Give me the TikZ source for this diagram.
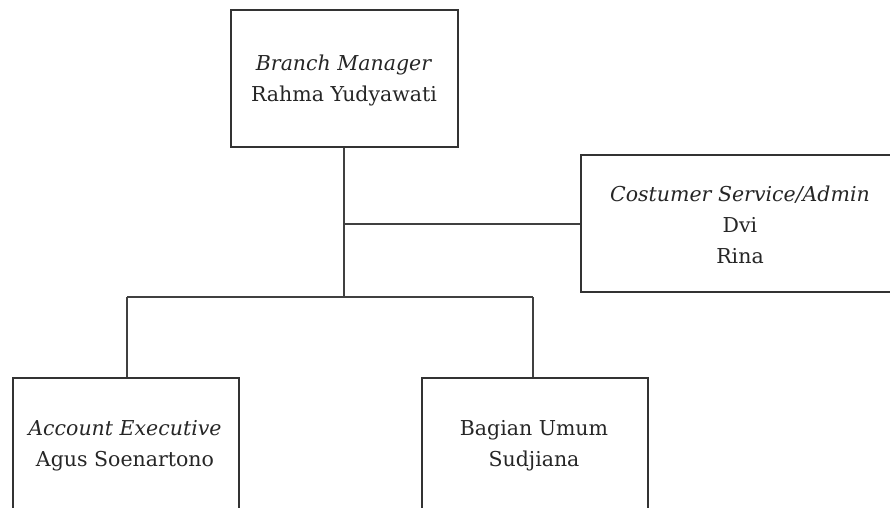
\documentclass[tikz,border=0pt]{standalone}
\usepackage{fontspec}
\setmainfont{DejaVu Serif}
\begin{document}
\begin{tikzpicture}[x=1pt,y=-1pt,
  box/.style={draw=black!80, line width=1.6pt, rectangle, inner sep=0pt, anchor=north west},
  conn/.style={draw=black!75, line width=1.1pt},
  lbl/.style={align=center, font=\fontsize{20.5}{31}\selectfont, text=black!85, inner sep=0pt}]
\useasboundingbox (0,0) rectangle (890,507);
\node[box, minimum width=227pt, minimum height=137pt] (bm) at (230,9) {};
\node[box, minimum width=320pt, minimum height=137pt] (cs) at (580,154) {};
\node[box, minimum width=226pt, minimum height=160pt] (ae) at (12,377) {};
\node[box, minimum width=226pt, minimum height=160pt] (bu) at (421,377) {};
\node[lbl] (bmt) at (344,80) {\textit{Branch Manager}\\Rahma Yudyawati};
\node[lbl] (cst) at (740,225) {\textit{Costumer Service/Admin}\\Dvi\\Rina};
\node[lbl] (aet) at (125,446) {\textit{Account Executive}\\Agus Soenartono};
\node[lbl] (but) at (534,446) {Bagian Umum\\Sudjiana};
\coordinate (j1) at (344,224);
\coordinate (j2) at (344,297);
\coordinate (jl) at (127,297);
\coordinate (jr) at (533,297);
\draw[conn] (bm.south -| j1) -- (j2);
\draw[conn] (j1) -- (cs.west |- j1);
\draw[conn] (jl) -- (jr);
\draw[conn] (jl) -- (jl |- ae.north);
\draw[conn] (jr) -- (jr |- bu.north);
\end{tikzpicture}
\end{document}
